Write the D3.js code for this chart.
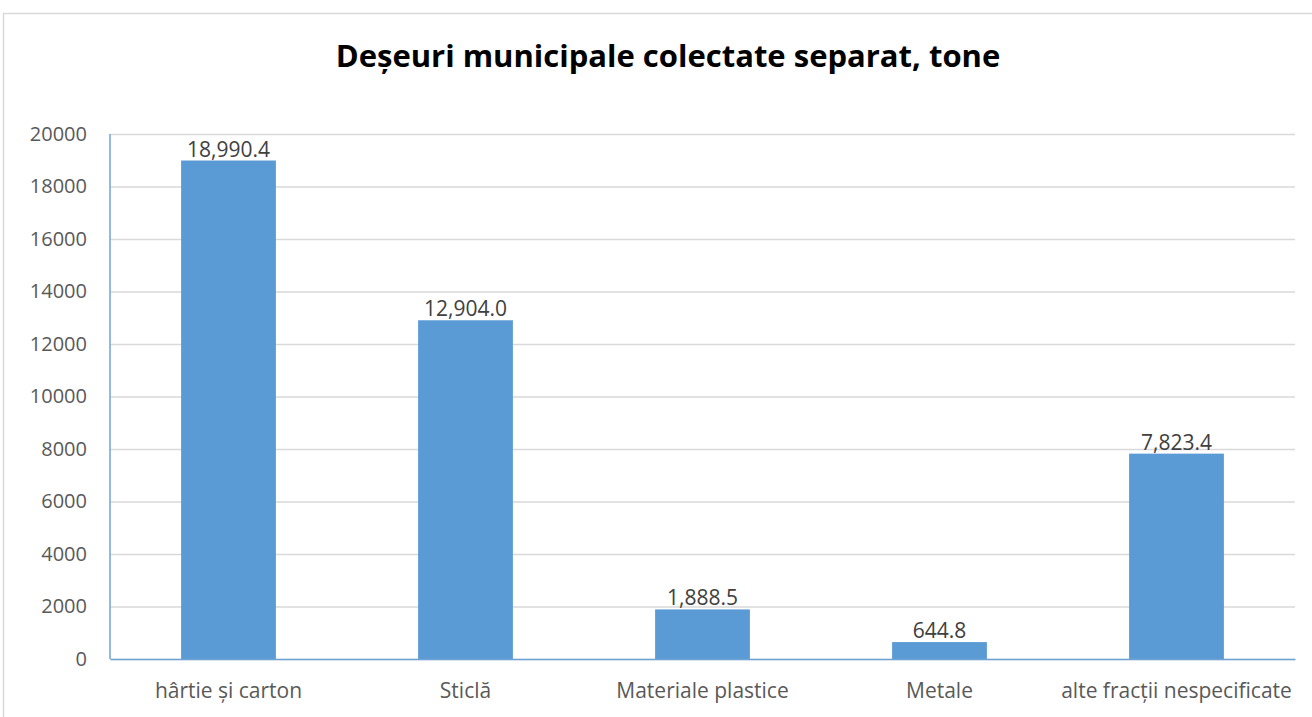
<!DOCTYPE html>
<html><head><meta charset="utf-8">
<script src="https://cdn.jsdelivr.net/npm/d3@7"></script>
<style>body{margin:0;background:#fff;} svg{display:block;}</style>
</head><body>
<svg id="c" width="1312" height="717"></svg>
<script>
const categories = ["hârtie și carton","Sticlă","Materiale plastice","Metale","alte fracții nespecificate"];
const values = [18990.4, 12904.0, 1888.5, 644.8, 7823.4];
const valueLabels = ["18,990.4","12,904.0","1,888.5","644.8","7,823.4"];
const yTicks = [0,2000,4000,6000,8000,10000,12000,14000,16000,18000,20000];
const title = "Deșeuri municipale colectate separat, tone";

const svg = d3.select("#c");
const font = "'Open Sans', 'Noto Sans', sans-serif";
const L=110, R=1295, T=134, B=659;

svg.append("rect").attr("x",3.5).attr("y",13.5).attr("width",1320).attr("height",720)
  .attr("fill","#fff").attr("stroke","#d9d9d9").attr("stroke-width",1.5);

const x = d3.scaleBand().domain(categories).range([L,R]).paddingInner(0.6).paddingOuter(0.3);
const y = d3.scaleLinear().domain([0,20000]).range([B,T]);

// gridlines
const gy = svg.append("g").attr("transform",`translate(${L},0)`)
  .call(d3.axisLeft(y).tickValues(yTicks).tickSize(-(R-L)).tickFormat(""));
gy.select(".domain").remove();
gy.selectAll("line").attr("stroke","#d9d9d9").attr("stroke-width",1.5);

// y labels
const ya = svg.append("g").attr("transform",`translate(${L},0)`)
  .call(d3.axisLeft(y).tickValues(yTicks).tickSize(0).tickPadding(23).tickFormat(d3.format("d")));
ya.select(".domain").remove();
ya.selectAll("text").attr("font-family",font).attr("font-size",20).attr("fill","#595959");

// bars
svg.append("g").selectAll("rect").data(values).join("rect")
  .attr("x",(d,i)=>x(categories[i])).attr("width",x.bandwidth())
  .attr("y",d=>y(d)).attr("height",d=>B-y(d)).attr("fill","#5b9bd5");

// value labels
svg.append("g").selectAll("text").data(values).join("text")
  .attr("x",(d,i)=>x(categories[i])+x.bandwidth()/2).attr("y",d=>y(d)-4)
  .attr("text-anchor","middle").attr("font-family",font).attr("font-size",21).attr("fill","#404040")
  .text((d,i)=>valueLabels[i]);

// axes lines
svg.append("line").attr("x1",L).attr("x2",L).attr("y1",T).attr("y2",B).attr("stroke","#6fa3d6").attr("stroke-width",1.5);
const xa = svg.append("g").attr("transform",`translate(0,${B})`)
  .call(d3.axisBottom(x).tickSize(0).tickPadding(24));
xa.select(".domain").attr("stroke","#6fa3d6").attr("stroke-width",1.5);
xa.selectAll("text").attr("font-family",font).attr("font-size",21).attr("fill","#595959");

svg.append("text").attr("x",668).attr("y",67).attr("text-anchor","middle")
  .attr("font-family",font).attr("font-weight","bold").attr("font-size",31).attr("fill","#000")
  .text(title);
</script>
</body></html>
